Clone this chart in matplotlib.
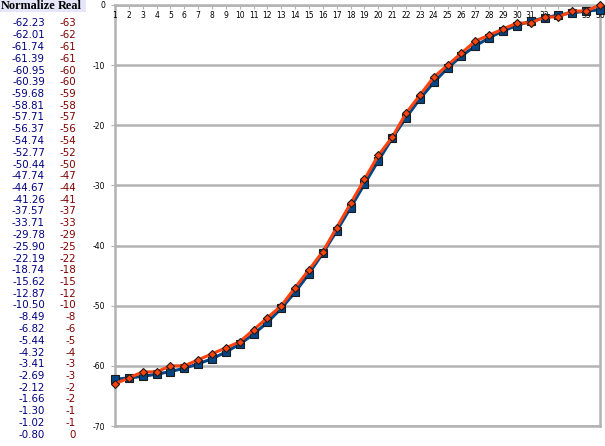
import matplotlib
matplotlib.use("Agg")
import matplotlib.pyplot as plt

# values from the table on the left of the chart
steps = list(range(1, 37))
normalize = [-62.23, -62.01, -61.74, -61.39, -60.95, -60.39, -59.68, -58.81,
             -57.71, -56.37, -54.74, -52.77, -50.44, -47.74, -44.67, -41.26,
             -37.57, -33.71, -29.78, -25.90, -22.19, -18.74, -15.62, -12.87,
             -10.50, -8.49, -6.82, -5.44, -4.32, -3.41, -2.69, -2.12,
             -1.66, -1.30, -1.02, -0.80]
real = [-63, -62, -61, -61, -60, -60, -59, -58, -57, -56, -54, -52, -50, -47,
        -44, -41, -37, -33, -29, -25, -22, -18, -15, -12, -10, -8, -6, -5,
        -4, -3, -3, -2, -2, -1, -1, 0]
y_ticks = [0, -10, -20, -30, -40, -50, -60, -70]

W, H = 605, 446
fig = plt.figure(figsize=(W / 100, H / 100), dpi=100)

# ---- the little table on the left ----
hdr_h = 12 / H
fig.patches.append(plt.Rectangle((0, 1 - hdr_h), 86 / W, hdr_h,
                                 transform=fig.transFigure,
                                 facecolor="#e6e6fa", edgecolor="none"))
fig.text(1 / W, 1 - 6 / H, "Normalize", family="Liberation Serif",
         weight="bold", fontsize=8.8, va="center", ha="left")
fig.text(58 / W, 1 - 6 / H, "Real", family="Liberation Serif",
         weight="bold", fontsize=8.8, va="center", ha="left")
row_h = 11.75
for i, (n, r) in enumerate(zip(normalize, real)):
    y = 1 - (23.5 + i * row_h) / H
    fig.text(45 / W, y, f"{n:.2f}", color="#000080", fontsize=7.4,
             ha="right", va="center")
    fig.text(76 / W, y, f"{r:d}", color="#800000", fontsize=7.4,
             ha="right", va="center")

# ---- the chart ----
ax = fig.add_axes([115 / W, 1 - 426 / H, 485 / W, 421 / H])
ax.plot(steps, normalize, color="#004586", lw=2.2, marker="s", ms=6,
        mfc="#004586", mec="#1a1a1a", mew=0.8, zorder=3, clip_on=False)
ax.plot(steps, real, color="#ff420e", lw=2.2, marker="D", ms=4.5,
        mfc="#ff420e", mec="#1a1a1a", mew=0.8, zorder=4, clip_on=False)

ax.set_xlim(1, 36)
ax.set_ylim(-70, 0)
ax.set_yticks(y_ticks)
ax.set_yticklabels([str(v) for v in y_ticks], fontsize=5.5)
ax.set_xticks(steps)
ax.set_xticklabels([str(s) for s in steps], fontsize=5.5)
ax.xaxis.tick_top()
ax.tick_params(axis="x", direction="in", length=3, color="#b3b3b3",
               pad=-11, top=True, bottom=False)
ax.tick_params(axis="y", length=3, color="#b3b3b3", pad=4)
ax.grid(axis="y", color="#b3b3b3", lw=1.8)
ax.set_axisbelow("line")
for sp in ax.spines.values():
    sp.set_color("#b3b3b3")
    sp.set_linewidth(1.8)
    sp.set_zorder(1)

fig.savefig("out.png", dpi=100)
